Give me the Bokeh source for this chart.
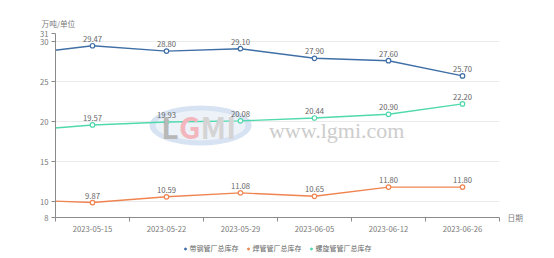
from bokeh.plotting import figure
from bokeh.layouts import column
from bokeh.models import (ColumnDataSource, FixedTicker, Range1d, Legend, LegendItem, Label, Title, LinearAxis)
from bokeh.embed import file_html
from bokeh.resources import INLINE

# ---- data ----
dates = ["2023-05-08", "2023-05-15", "2023-05-22", "2023-05-29", "2023-06-05", "2023-06-12", "2023-06-26"]
strip_pipe = [28.35, 29.47, 28.80, 29.10, 27.90, 27.60, 25.70]   # 带钢管厂总库存 (first point lies left of view)
welded_pipe = [10.23, 9.87, 10.59, 11.08, 10.65, 11.80, 11.80]   # 焊管管厂总库存
spiral_pipe = [18.83, 19.57, 19.93, 20.08, 20.44, 20.90, 22.20]  # 螺旋管管厂总库存
series_names = ["带钢管厂总库存", "焊管管厂总库存", "螺旋管管厂总库存"]
y_ticks = [8, 10, 15, 20, 25, 30, 31]
colors = ["#3f6fa6", "#ef8450", "#4fd9ad"]

FONT = "Noto Sans CJK SC"
FS = "7.7px"
TXT = "#7a7a7a"
xs = list(range(len(dates)))

p = figure(width=554, height=238, output_backend="svg", toolbar_location=None,
           x_range=Range1d(0.5, len(dates) - 0.5), y_range=Range1d(8, 31),
           min_border_left=55, min_border_right=55, min_border_top=33, min_border_bottom=21)
p.outline_line_color = None
p.background_fill_color = "white"
p.border_fill_color = "white"

# watermark
p.ellipse(x=[2.46], y=[19.5], width=[102], height=[40], width_units="screen", height_units="screen",
          fill_color="#c6d7ec", fill_alpha=0.7, line_color=None)
p.ellipse(x=[2.46], y=[19.5], width=[90], height=[30], width_units="screen", height_units="screen",
          fill_color="white", fill_alpha=0.55, line_color=None)
p.add_layout(Label(x=2.46, y=19.5, text="L", text_font=FONT, text_font_style="bold",
                   text_font_size="30px", text_color="#b8b8b8", text_align="right",
                   text_baseline="middle", x_offset=-22))
p.add_layout(Label(x=2.46, y=19.5, text="G", text_font=FONT, text_font_style="bold",
                   text_font_size="30px", text_color="#f3b6bd", text_align="right",
                   text_baseline="middle", x_offset=0))
p.add_layout(Label(x=2.46, y=19.5, text="MI", text_font=FONT, text_font_style="bold",
                   text_font_size="30px", text_color="#d4d4d4", text_align="left",
                   text_baseline="middle", x_offset=0))
p.add_layout(Label(x=4.3, y=18.9, text="www.lgmi.com", text_font="Liberation Serif",
                   text_font_size="22px", text_color="#cdcdcd", text_align="center",
                   text_baseline="middle"))

for vals, name, col in zip([strip_pipe, welded_pipe, spiral_pipe], series_names, colors):
    src = ColumnDataSource(dict(x=xs, y=vals))
    p.line("x", "y", source=src, line_color=col, line_width=1.4)
    vis = ColumnDataSource(dict(x=xs[1:], y=vals[1:], lbl=[f"{v:.2f}" for v in vals[1:]]))
    p.scatter("x", "y", source=vis, size=4.5, marker="circle", fill_color="white", line_color=col, line_width=1.2)
    p.text("x", "y", text="lbl", source=vis, text_font_size=FS, text_color="#666666",
           text_align="center", text_baseline="bottom", y_offset=-4, text_font={"value": FONT})

# axes
p.xaxis.ticker = FixedTicker(ticks=xs[1:], minor_ticks=[i + 0.5 for i in range(len(dates))])
p.xaxis.major_label_overrides = {i: d for i, d in enumerate(dates)}
p.xaxis.major_tick_out = 0
p.xaxis.major_tick_in = 0
p.xaxis.minor_tick_out = 4
p.xaxis.minor_tick_in = 0
p.xaxis.axis_line_color = "#8a8a8a"
p.xaxis.minor_tick_line_color = "#8a8a8a"
p.xaxis.major_label_text_font_size = FS
p.xaxis.major_label_text_color = TXT
p.xaxis.major_label_text_font = FONT
p.xaxis.major_label_standoff = 4

p.yaxis.ticker = FixedTicker(ticks=y_ticks)
p.yaxis.major_tick_out = 4
p.yaxis.major_tick_in = 0
p.yaxis.minor_tick_line_color = None
p.yaxis.axis_line_color = "#8a8a8a"
p.yaxis.major_tick_line_color = "#8a8a8a"
p.yaxis.major_label_text_font_size = FS
p.yaxis.major_label_text_color = TXT
p.yaxis.major_label_text_font = FONT
p.yaxis.major_label_standoff = 3

# axis name "日期" at the right end of the x axis (a tick label of a bare right-hand axis)
name_axis = LinearAxis(ticker=FixedTicker(ticks=[8]), major_label_overrides={8: "日期"},
                       axis_line_color=None, major_tick_line_color=None, minor_tick_line_color=None,
                       major_tick_out=0, major_tick_in=0,
                       major_label_standoff=8, major_label_text_font=FONT,
                       major_label_text_font_size=FS, major_label_text_color=TXT)
p.add_layout(name_axis, "right")

p.xgrid.grid_line_color = None
p.ygrid.grid_line_color = "#ebebeb"
p.ygrid.ticker = FixedTicker(ticks=y_ticks[1:])

p.add_layout(Title(text="万吨/单位", text_font=FONT, text_font_size=FS, text_font_style="normal",
                   text_color=TXT, align="left", offset=-14, standoff=10), "above")

# legend row
lg = figure(width=554, height=20, output_backend="svg", toolbar_location=None,
            x_range=Range1d(0, 1), y_range=Range1d(0, 1), x_axis_location=None, y_axis_location=None,
            min_border=0)
lg.outline_line_color = None
lg.xgrid.grid_line_color = None
lg.ygrid.grid_line_color = None
items = []
for name, col in zip(series_names, colors):
    r = lg.scatter(x=[-5], y=[-5], size=4, marker="circle", fill_color=col, line_color=col)
    items.append(LegendItem(label=name, renderers=[r]))
legend = Legend(items=items, orientation="horizontal", location="center",
                label_text_font=FONT, label_text_font_size="7px", label_text_color="#666666",
                glyph_width=5, glyph_height=5, label_standoff=2, spacing=7, padding=0,
                margin=0, border_line_color=None, background_fill_alpha=0, label_height=8)
lg.add_layout(legend)

open("out.html", "w").write(file_html(column(p, lg, spacing=0), INLINE))
